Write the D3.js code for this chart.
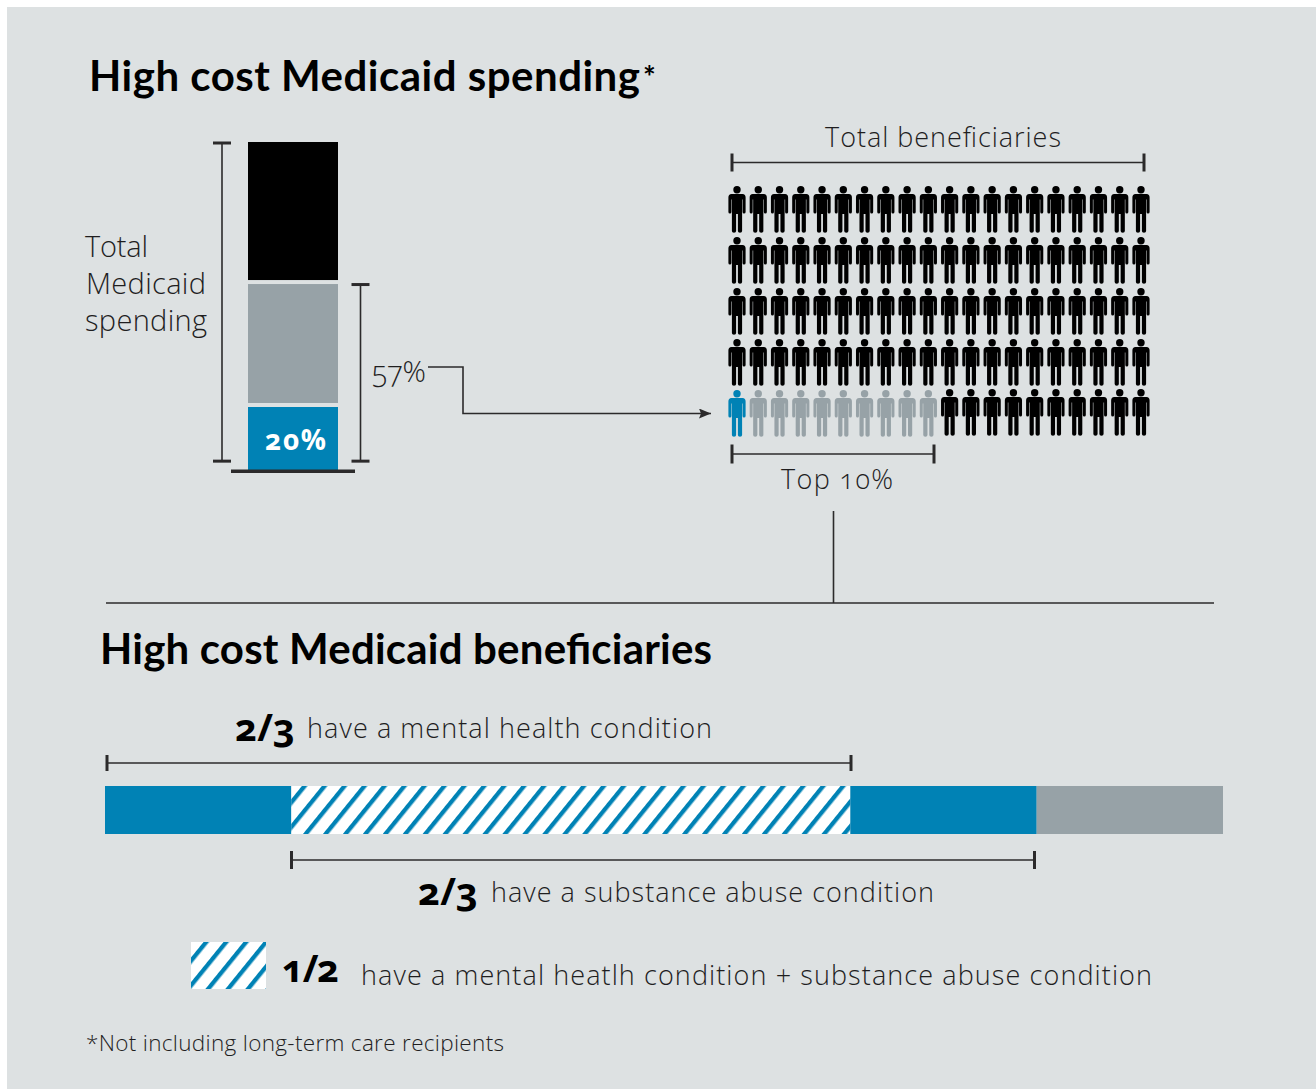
<!DOCTYPE html>
<html><head><meta charset="utf-8">
<script src="https://cdn.jsdelivr.net/npm/d3@7"></script>
<style>html,body{margin:0;padding:0;background:#fff}svg{display:block}
text{font-family:"Open Sans",sans-serif;fill:#1f1e1f;font-feature-settings:"onum" 1;}
text.t{font-family:"Lato",sans-serif;fill:#000;font-weight:700}
</style></head><body><svg id="c" width="1316" height="1089"></svg>
<script>
const spendingSegments=[{name:"high",value:20,color:"#0082b5"},{name:"next",value:37,color:"#97a2a7"},{name:"rest",value:43,color:"#000000"}];
const beneficiaryGroups=[{name:"top",count:1,color:"#0082b5"},{name:"high",count:9,color:"#97a2a7"},{name:"other",count:90,color:"#000000"}];
const iconRows=[0,1,2,3,4];
const iconCols=d3.range(20);
const conditionSegments=[{name:"mental only",share:1/6,fill:"#0082b5"},{name:"both",share:1/2,fill:"url(#hatch)"},{name:"substance only",share:1/6,fill:"#0082b5"},{name:"neither",share:1/6,fill:"#97a2a7"}];
const BLUE="#0082b5",INK="#2b2a2b";
const svg=d3.select("#c");
const defs=svg.append("defs");
function pattern(id,tx){const p=defs.append("pattern").attr("id",id).attr("patternUnits","userSpaceOnUse").attr("width",15.5).attr("height",20)
 .attr("patternTransform",`translate(${tx},0) rotate(39)`);
 p.append("rect").attr("width",15.5).attr("height",20).attr("fill","#fff");
 p.append("rect").attr("width",4.3).attr("height",20).attr("fill",BLUE);}
pattern("hatch",1);pattern("hatch2",9);
defs.append("marker").attr("id","arr").attr("markerUnits","userSpaceOnUse").attr("viewBox","0 0 12 10").attr("refX",12).attr("refY",5).attr("markerWidth",12).attr("markerHeight",10).attr("orient","auto")
 .append("path").attr("d","M0 0L12 5L0 10L2 5Z").attr("fill",INK);
svg.append("rect").attr("x",7).attr("y",7).attr("width",1309).attr("height",1082).attr("fill","#dde1e2");

function txt(x,y,s,size,weight,len,cls){const t=svg.append("text").attr("x",x).attr("y",y).attr("font-size",size).attr("font-weight",weight||300).text(s);
 if(len)t.attr("textLength",len).attr("lengthAdjust","spacing");if(cls)t.attr("class",cls);return t;}
function hline(x1,x2,y,w){svg.append("line").attr("x1",x1).attr("x2",x2).attr("y1",y).attr("y2",y).attr("stroke",INK).attr("stroke-width",w||1.6);}
function vline(x,y1,y2,w){svg.append("line").attr("x1",x).attr("x2",x).attr("y1",y1).attr("y2",y2).attr("stroke",INK).attr("stroke-width",w||1.6);}
function hBracket(x1,x2,y,h){hline(x1,x2,y);vline(x1,y-h,y+h,3);vline(x2,y-h,y+h,3);}
function vBracket(x,y1,y2,h){vline(x,y1,y2);hline(x-h,x+h,y1,3);hline(x-h,x+h,y2,3);}

// stacked bar
const yS=d3.scaleLinear().domain([0,100]).range([470,142]);
const stack=d3.stack().keys(spendingSegments.map(d=>d.name))([Object.fromEntries(spendingSegments.map(d=>[d.name,d.value]))]);
const topInset=[2.6,1,0],bottomInset=[0,1.4,3];
svg.append("g").selectAll("rect").data(stack).join("rect").attr("x",248).attr("width",90)
 .attr("y",(d,i)=>yS(d[0][1])+topInset[i]).attr("height",(d,i)=>yS(d[0][0])-yS(d[0][1])-topInset[i]-bottomInset[i])
 .attr("fill",(d,i)=>spendingSegments[i].color);
hline(231,355,471.3,3.6);
vBracket(222,yS(100)+1,yS(2.7),9);
vBracket(360.5,yS(57)+1.5,yS(2.7),9);
txt(85,257,"Total",29,300,63);txt(86,294,"Medicaid",29,300,120);txt(85,331,"spending",29,300,122);
txt(265,450,"20%",28,700,61).style("fill","#fff");
txt(372,382,"57%",29,300,54);
svg.append("path").attr("d",d3.line()([[428,367],[463,367],[463,413.5],[711,413.5]])).attr("fill","none").attr("stroke",INK).attr("stroke-width",1.6).attr("marker-end","url(#arr)");

// icons
const xI=d3.scalePoint().domain(iconCols).range([737,1141]);
const yI=d3.scalePoint().domain(iconRows).range([186,390]);
const person="M-5.5 8H5.5Q8.6 8 8.6 11.5V26Q8.6 27.6 7 27.6Q5.6 27.6 5.6 26V13.5H5.1V45Q5.1 46.8 3 46.8Q.9 46.8 .9 45V28H-.9V45Q-.9 46.8 -3 46.8Q-5.1 46.8 -5.1 45V13.5H-5.6V26Q-5.6 27.6 -7 27.6Q-8.6 27.6 -8.6 26V11.5Q-8.6 8 -5.5 8ZM0 0A3.7 3.7 0 1 1 0 7.4A3.7 3.7 0 1 1 0 0Z";
const colorList=beneficiaryGroups.flatMap(g=>d3.range(g.count).map(()=>g.color));
const cells=iconRows.flatMap((r,ri)=>iconCols.map((c,ci)=>{const idx=(iconRows.length-1-ri)*iconCols.length+ci;return {r,c,color:colorList[idx],idx};}));
svg.append("g").selectAll("path").data(cells).join("path").attr("d",person)
 .attr("transform",d=>`translate(${xI(d.c)},${yI(d.r)+(d.idx>=10&&d.r==4?-1:0)})`).attr("fill",d=>d.color);
hBracket(732,1144,162.5,9);
hBracket(732,934,454,9.5);
txt(825,147,"Total beneficiaries",27,300,236);
txt(781,489,"Top 10%",27,300,112);

vline(833.5,511,603);hline(106,1214,603);

// Titles
txt(89,91,"High cost Medicaid spending",42,700,551,"t");
txt(643,88,"*",30,700,null,"t");
txt(100,664,"High cost Medicaid beneficiaries",42,700,612,"t");

// Condition bar
const xC=d3.scaleLinear().domain([0,1]).range([105,1223]);
let cum=0;const condRows=conditionSegments.map(d=>{const r={...d,x0:cum,x1:cum+d.share};cum+=d.share;return r;});
svg.append("g").selectAll("rect").data(condRows).join("rect").attr("x",d=>xC(d.x0)).attr("width",d=>xC(d.x1)-xC(d.x0)).attr("y",786).attr("height",48).attr("fill",d=>d.fill);
hBracket(107,851,763,8);
hBracket(291.5,1034.5,860,9);
txt(235,741,"2/3",38,700,60).style("fill","#000");
txt(307,738,"have a mental health condition",27,300,405);
txt(418,905,"2/3",38,700,60).style("fill","#000");
txt(491,902,"have a substance abuse condition",27,300,443);
svg.append("rect").attr("x",191).attr("y",942).attr("width",75).attr("height",47).attr("fill","url(#hatch2)");
txt(282,982,"1/2",38,700,57).style("fill","#000");
txt(361,985,"have a mental heatlh condition + substance abuse condition",27,300,791);
txt(86,1051,"*Not including long-term care recipients",22.5,300,418);
</script></body></html>
